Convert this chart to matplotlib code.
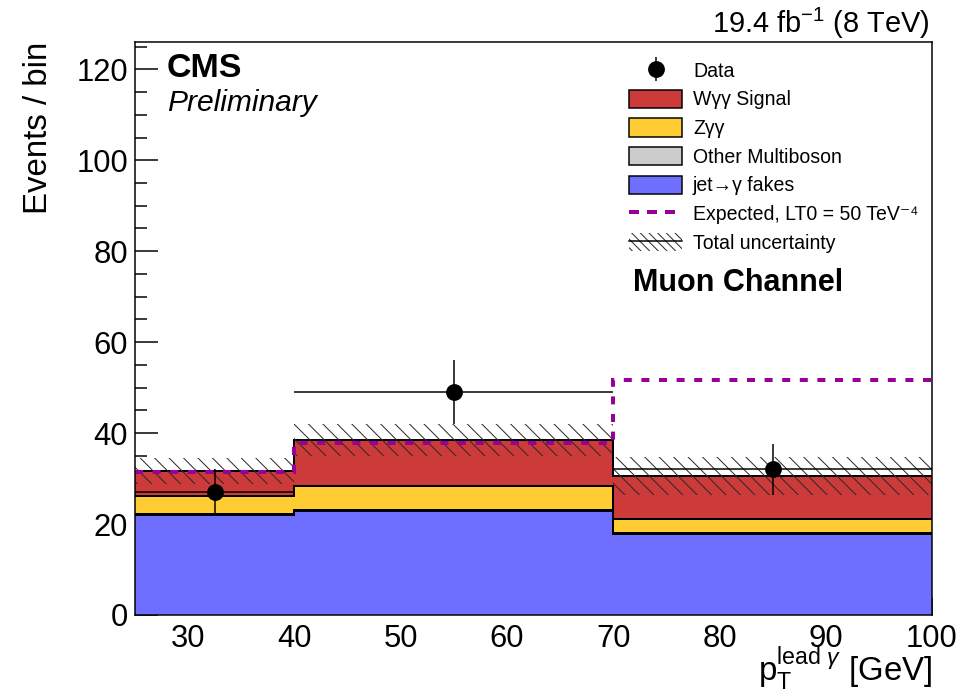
import numpy as np
import matplotlib
matplotlib.use("Agg")
import matplotlib.pyplot as plt
from matplotlib.patches import Patch
from matplotlib.lines import Line2D

# ---- data -------------------------------------------------------------
bin_edges = [25, 40, 70, 100]
jet_fakes = [22.0, 22.9, 17.8]
other_multiboson = [0.2, 0.2, 0.2]
zgg = [3.9, 5.2, 3.2]
wgg_signal = [5.6, 10.2, 9.3]
total_unc = [2.8, 3.5, 4.2]
expected_lt0 = [31.5, 37.8, 51.6]
data_counts = [27, 49, 32]
data_err = [5.2, 7.0, 5.66]

x_ticks = [30, 40, 50, 60, 70, 80, 90, 100]
y_ticks = [0, 20, 40, 60, 80, 100, 120]

# ---- style ------------------------------------------------------------
DPI = 130
W, H = 970, 691


def pt(px):
    return px * 72.0 / DPI


plt.rcParams['font.family'] = ['Liberation Sans', 'DejaVu Sans']
plt.rcParams['mathtext.fontset'] = 'custom'
plt.rcParams['mathtext.rm'] = 'Liberation Sans'
plt.rcParams['mathtext.it'] = 'Liberation Sans:italic'
plt.rcParams['mathtext.bf'] = 'Liberation Sans:bold'
plt.rcParams['hatch.linewidth'] = pt(1.0)

c_red = '#cc3a3a'
c_yellow = '#ffcc33'
c_gray = '#cccccc'
c_blue = '#6f6fff'
c_purple = '#990099'
c_hatch = '#2a2a2a'

fig = plt.figure(figsize=(W / DPI, H / DPI), dpi=DPI)
ax_l, ax_r, ax_t, ax_b = 135, 932, 42, 615
ax = fig.add_axes([ax_l / W, 1 - ax_b / H, (ax_r - ax_l) / W, (ax_b - ax_t) / H])

edges = np.array(bin_edges, dtype=float)
centers = 0.5 * (edges[:-1] + edges[1:])
half_w = 0.5 * np.diff(edges)

# ---- stacked backgrounds + signal ------------------------------------
layers = [
    (jet_fakes, c_blue),
    (other_multiboson, c_gray),
    (zgg, c_yellow),
    (wgg_signal, c_red),
]
bottom = np.zeros(len(jet_fakes))
for vals, col in layers:
    top = bottom + np.array(vals)
    ax.stairs(top, edges, baseline=bottom, fill=True, facecolor=col,
              edgecolor='none', zorder=2)
    ax.stairs(top, edges, baseline=None, color='black', lw=pt(2.0), zorder=3)
    bottom = top
stack_total = bottom

# total uncertainty band
unc = np.array(total_unc)
ax.stairs(stack_total + unc, edges, baseline=stack_total - unc, fill=True,
          facecolor='none', edgecolor=c_hatch, hatch='\\\\\\', lw=0, zorder=4)

# expected with anomalous coupling
ax.stairs(expected_lt0, edges, baseline=None, color=c_purple, lw=pt(4.0),
          linestyle=(0, (2.0, 2.4)), zorder=5)

# data
ax.errorbar(centers, data_counts, xerr=half_w, yerr=data_err, fmt='o',
            color='black', ms=pt(15), elinewidth=pt(1.5), capsize=0, zorder=6)

# ---- axes -------------------------------------------------------------
ax.set_xlim(25, 100)
ax.set_ylim(0, 126)
ax.set_xticks(x_ticks)
ax.set_yticks(y_ticks)
ax.xaxis.set_minor_locator(matplotlib.ticker.MultipleLocator(2))
ax.yaxis.set_minor_locator(matplotlib.ticker.MultipleLocator(5))
ax.tick_params(axis='both', which='both', direction='in', top=False,
               right=False, width=pt(1.5), colors='black')
ax.tick_params(axis='y', which='major', length=pt(23), pad=pt(7),
               labelsize=pt(31))
ax.tick_params(axis='y', which='minor', length=pt(12))
ax.tick_params(axis='x', which='major', length=pt(17), pad=pt(9),
               labelsize=pt(31))
ax.tick_params(axis='x', which='minor', length=pt(8.5))
for s in ax.spines.values():
    s.set_linewidth(pt(1.5))
    s.set_zorder(10)

ax.set_ylabel('Events / bin', fontsize=pt(33), loc='top', va='baseline')
ax.yaxis.set_label_coords((47 - ax_l) / (ax_r - ax_l), 1.0)
ax.set_xlabel(r'$\mathrm{p}_{\mathrm{T}}^{\mathrm{lead}\ \gamma}$ [GeV]',
              fontsize=pt(33), loc='right', va='baseline')
ax.xaxis.set_label_coords(1.0, (ax_b - 681) / (ax_b - ax_t))

# ---- texts ------------------------------------------------------------
def ftxt(x, y, s, **kw):
    fig.text(x / W, 1 - y / H, s, **kw)


ftxt(167, 77, 'CMS', fontsize=pt(34), fontweight='bold', va='baseline')
ftxt(167, 111, 'Preliminary', fontsize=pt(30), style='italic', va='baseline')
ftxt(930, 33, r'19.4 fb$^{\mathrm{-1}}$ (8 TeV)', fontsize=pt(29),
     ha='right', va='baseline')
ftxt(633, 291, 'Muon Channel', fontsize=pt(30.5), fontweight='bold',
     va='baseline')

# ---- legend -----------------------------------------------------------
h_data = (Line2D([], [], marker='o', color='black', ls='none', ms=pt(15)),
          Line2D([], [], marker='|', color='black', ls='none', ms=pt(24),
                 mew=pt(1.5)))
h_sig = Patch(facecolor=c_red, edgecolor='black', lw=pt(1.5))
h_z = Patch(facecolor=c_yellow, edgecolor='black', lw=pt(1.5))
h_oth = Patch(facecolor=c_gray, edgecolor='black', lw=pt(1.5))
h_fake = Patch(facecolor=c_blue, edgecolor='black', lw=pt(1.5))
h_exp = Line2D([], [], color=c_purple, lw=pt(4.0), ls=(0, (2.5, 2.0)))
h_unc = (Patch(facecolor='none', edgecolor=c_hatch, hatch='\\\\\\\\\\', lw=0),
         Line2D([], [], color='black', lw=pt(1.5)))

labels = ['Data', 'W\u03b3\u03b3 Signal', 'Z\u03b3\u03b3', 'Other Multiboson',
          'jet\u2192\u03b3 fakes', 'Expected, LT0 = 50 TeV\u207b\u2074',
          'Total uncertainty']
leg = ax.legend([h_data, h_sig, h_z, h_oth, h_fake, h_exp, h_unc], labels,
                loc='upper left', bbox_to_anchor=(629 / W, 1 - 61 / H),
                bbox_transform=fig.transFigure, frameon=False,
                fontsize=pt(19.5), borderpad=0, borderaxespad=0,
                handlelength=53 / 19.5, handleheight=21 / 19.5,
                handletextpad=11 / 19.5, labelspacing=0.45)
leg.set_zorder(12)

fig.savefig('out.png', dpi=DPI)
